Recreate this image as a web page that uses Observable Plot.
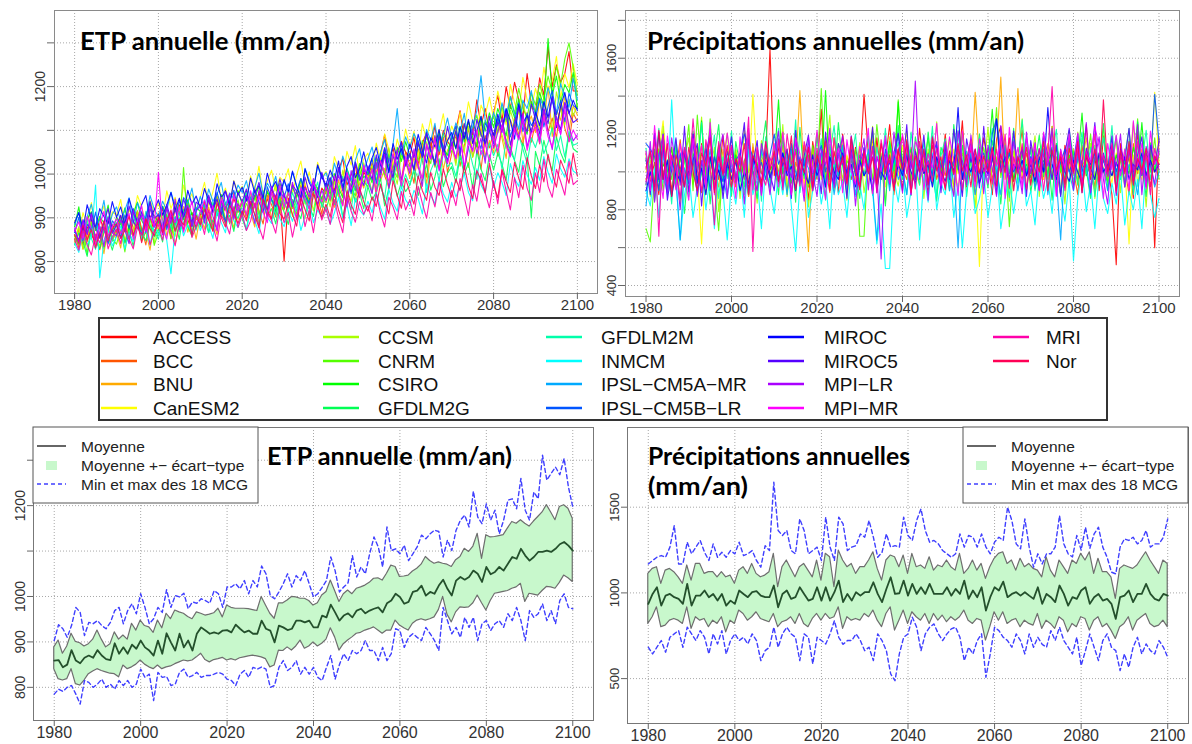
<!DOCTYPE html>
<html><head><meta charset="utf-8">
<script src="https://cdn.jsdelivr.net/npm/d3@7"></script>
<script src="https://cdn.jsdelivr.net/npm/@observablehq/plot@0.6"></script>
<style>
body{margin:0;background:#fff;}
#wrap{position:relative;width:1192px;height:744px;overflow:hidden;background:#fff;font-family:"Liberation Sans",Arial,sans-serif;}
.panel{position:absolute;}
#overlay{position:absolute;left:0;top:0;pointer-events:none;}
</style></head><body><div id="wrap"></div>
<script>
// ---------- catégories ----------
const annees = d3.range(1980, 2101);
const modeles = ["ACCESS","BCC","BNU","CanESM2","CCSM","CNRM","CSIRO","GFDLM2G","GFDLM2M","INMCM","IPSL-CM5A-MR","IPSL-CM5B-LR","MIROC","MIROC5","MPI-LR","MPI-MR","MRI","Nor"];
const couleurs = ["#FF0000","#FF5500","#FFAA00","#FFFF00","#AAFF00","#55FF00","#00FF00","#00FF55","#00FFAA","#00FFFF","#00AAFF","#0055FF","#0000FF","#5500FF","#AA00FF","#FF00FF","#FF00AA","#FF0055"];
const xTicks = [1980,2000,2020,2040,2060,2080,2100];
const etpTicks = [800,900,1000,1100,1200,1300];
const etpLabels = [800,900,1000,1200];
const precTicksHaut = [400,600,800,1000,1200,1400,1600,1800];
const precLabelsHaut = [400,800,1200,1600];
const precTicksBas = [500,1000,1500];

// ---------- ETP annuelle par modèle (mm/an) ----------
const etpACCESS = [850,872,838,880,861,845,902,870,858,884,866,901,879,852,890,915,870,884,905,868,892,921,880,905,868,930,899,887,912,876,905,938,898,917,950,903,925,911,944,919,932,906,948,925,958,917,940,968,929,952,801,945,922,960,938,975,942,958,930,968,955,990,962,1010,1035,975,998,1020,962,1005,988,1025,1000,1045,1090,1030,1060,1012,1075,1050,1040,1085,1020,1070,1095,1060,1110,1045,1100,1075,1060,1100,1145,1080,1120,1090,1170,1110,1150,1095,1140,1180,1120,1200,1150,1210,1170,1130,1230,1160,1140,1220,1180,1290,1200,1250,1210,1230,1280,1190,1190];
const etpBCC = [861,832,879,845,893,850,827,866,902,848,870,905,842,881,859,916,874,838,897,884,911,868,895,852,926,889,871,934,880,898,886,932,914,871,945,903,925,890,958,912,941,897,923,968,915,886,952,930,902,961,918,956,934,897,975,942,920,963,951,908,972,938,991,955,929,1003,964,985,947,1018,980,1012,952,1034,996,971,1046,1008,987,1052,1021,979,1058,1030,993,1072,1016,1049,1085,1003,1047,1092,1018,1065,1104,1039,1073,1011,1088,1060,1095,1041,1112,1078,1056,1130,1090,1067,1141,1073,1118,1069,1145,1097,1128,1082,1161,1105,1074,1139,1120];
const etpBNU = [842,875,828,856,890,837,861,818,879,850,866,831,898,852,874,907,845,869,826,891,873,912,858,895,840,881,926,867,899,851,906,874,925,889,862,940,897,918,876,933,901,948,912,879,936,920,963,895,931,910,944,906,925,962,931,898,957,976,920,948,935,969,924,987,951,1004,962,939,992,968,1001,957,1025,984,1013,966,1042,1005,979,1031,990,1038,1012,1066,975,1047,1023,1081,1010,1055,1070,1026,1094,1051,1015,1083,1062,1108,1040,1077,1049,1116,1082,1036,1125,1097,1150,1074,1108,1133,1095,1172,1118,1201,1086,1147,1123,1180,1101,1156,1135];
const etpCanESM2 = [893,858,912,881,935,876,901,927,869,914,906,942,880,919,897,951,925,888,940,913,934,898,962,921,947,910,975,936,955,918,946,981,927,959,1002,943,968,931,985,957,972,941,996,963,1018,951,984,1009,962,993,981,1012,955,998,1030,972,1005,961,1027,992,1006,975,1040,1012,988,1052,1021,1065,997,1034,1048,1010,1071,1033,1092,1056,1019,1080,1045,1103,1062,1098,1040,1115,1079,1127,1058,1094,1138,1072,1110,1086,1142,1103,1165,1121,1090,1158,1134,1176,1128,1190,1147,1112,1205,1163,1138,1221,1170,1149,1196,1158,1244,1187,1215,1269,1174,1230,1198,1252,1205];
const etpCCSM = [847,880,829,865,902,851,836,889,858,872,861,897,848,883,869,915,853,890,877,842,903,872,925,881,858,914,896,939,867,908,889,927,903,871,951,915,884,940,922,896,935,905,957,924,889,963,918,942,976,910,928,962,903,947,984,931,958,916,970,944,961,925,983,948,1009,966,937,1002,975,1026,982,1018,963,1037,994,1060,1011,977,1045,1023,1006,1052,1021,985,1074,1039,1088,1016,1060,1031,1067,1020,1093,1052,1110,1038,1081,1124,1062,1097,1075,1132,1090,1058,1146,1112,1083,1164,1121,1095,1140,1101,1179,1126,1098,1188,1145,1112,1171,1133,1160];
const etpCNRM = [858,838,876,815,889,847,864,829,871,852,840,873,822,881,856,893,849,868,902,837,866,884,909,853,895,871,1015,883,857,914,879,928,897,872,920,903,936,886,912,941,899,933,914,951,906,942,921,958,917,944,926,958,931,909,963,940,922,978,950,931,967,944,989,958,935,996,971,950,1010,982,972,1014,987,1029,998,1046,1011,992,1058,1027,1018,1055,1031,1077,1042,1024,1086,1058,1094,1066,1050,1099,1076,1114,1068,1104,1135,1086,1123,1100,1133,1094,1155,1120,1176,1139,1196,1151,1128,1185,1158,1205,1172,1224,1186,1246,1204,1263,1300,1244,1180];
const etpCSIRO = [880,925,862,897,914,871,903,888,929,866,901,885,923,870,910,936,894,877,919,905,888,927,901,874,935,912,896,941,907,923,915,898,946,927,905,953,921,940,903,962,930,957,916,945,972,928,960,941,913,979,950,926,971,947,990,959,934,983,966,942,978,953,1001,969,946,1013,984,962,1024,991,1006,980,1037,998,1052,1017,990,1061,1029,1074,1041,1008,1070,1039,1089,1052,1023,1096,1060,1043,1088,1057,1109,1073,1121,1085,1062,1132,1098,1140,1106,1150,1121,1087,1158,1129,1172,1113,1091,1166,1140,1187,1153,1310,1178,1224,1163,1205,1186,1232,1150];
const etpGFDLM2G = [838,866,845,812,879,851,830,872,858,826,861,889,843,870,835,902,866,848,884,857,874,845,906,868,889,851,919,880,861,903,884,921,867,895,876,938,890,906,869,925,898,872,931,909,883,947,904,921,886,939,913,885,942,917,898,952,926,903,961,930,918,953,931,967,902,945,978,936,958,921,972,940,959,991,927,968,1001,949,982,960,975,1008,951,987,1022,963,994,1035,971,1002,1017,980,1041,999,1026,968,1053,1011,985,1044,1009,1048,1023,986,1062,1031,1004,1071,1040,900,1052,1019,1077,1036,1008,1085,1049,1026,1093,1058,1050];
const etpGFDLM2M = [872,841,861,895,853,828,880,866,904,846,889,857,873,842,906,878,861,915,883,870,851,897,924,876,903,868,888,930,895,872,918,893,866,937,904,921,887,948,912,899,926,961,908,932,897,955,921,943,906,972,935,914,958,927,969,940,903,951,982,924,948,977,931,965,995,950,918,986,962,944,992,958,1005,971,946,1018,983,1030,967,999,974,1013,990,1042,958,1008,1031,984,1050,1017,1026,995,1047,1009,1063,1022,988,1055,1036,1071,1042,1068,1011,1079,1050,1033,1090,1057,1024,1083,1061,1095,1047,1072,1106,1054,1088,1039,1099,1066,1070];
const etpINMCM = [842,821,867,838,856,975,763,849,874,836,857,881,829,866,846,893,851,872,838,884,861,890,848,772,877,902,859,884,866,912,871,898,884,853,917,889,866,927,893,878,907,872,920,895,864,933,902,887,941,898,880,916,892,929,871,904,938,889,918,901,925,886,911,947,899,930,882,945,918,906,938,912,958,923,897,965,934,915,972,941,927,963,944,909,978,951,932,989,955,936,981,948,970,1001,958,939,1012,975,956,1020,969,1003,981,951,1024,990,972,1031,998,977,1015,986,1040,1004,979,1046,1012,993,1035,1007,1000];
const etpIPSLA = [884,912,865,903,931,879,896,940,872,908,925,893,917,946,888,934,912,897,951,920,902,938,917,959,926,905,947,933,968,915,949,922,966,938,954,981,929,957,944,975,958,985,941,970,1002,952,979,963,995,947,984,961,1005,972,948,1013,986,967,1019,990,1003,974,1025,992,1041,1010,985,1032,1058,1007,1035,1062,1012,1049,1079,1026,1068,1150,1044,1085,1058,1093,1070,1041,1102,1077,1116,1052,1090,1128,1081,1117,1094,1139,1070,1108,1145,1225,1122,1098,1141,1110,1163,1129,1178,1137,1102,1169,1150,1191,1133,1174,1152,1198,1165,1139,1207,1176,1153,1219,1170];
const etpIPSLB = [866,901,848,885,872,913,857,879,840,893,882,854,907,876,921,890,861,903,935,879,896,926,873,910,889,941,902,925,880,917,930,897,944,912,958,925,890,939,963,921,908,949,927,965,936,912,971,942,925,958,947,978,926,962,990,951,933,975,958,1001,963,991,948,1015,972,994,955,1028,986,1009,999,1036,978,1021,1060,1004,1042,1017,1069,1025,1048,1012,1077,1039,1096,1054,1028,1089,1063,1030,1081,1110,1052,1096,1073,1124,1085,1058,1117,1099,1069,1128,1102,1150,1085,1118,1163,1097,1139,1111,1127,1172,1108,1154,1191,1136,1168,1120,1185,1157,1150];
const etpMIROC = [889,912,871,930,895,878,921,903,886,937,901,925,884,944,912,889,930,951,897,918,941,906,929,958,917,945,902,963,931,950,922,967,939,915,978,946,961,929,984,952,970,938,991,957,974,945,1002,966,983,951,988,958,1007,972,946,1012,980,962,1021,993,975,1009,986,1030,962,1018,1040,991,1012,1051,1007,1037,1061,1019,1048,1003,1070,1034,1058,1022,1069,1038,1091,1054,1025,1083,1062,1102,1046,1077,1095,1059,1108,1081,1125,1070,1099,1132,1065,1114,1088,1137,1101,1149,1122,1080,1159,1117,1134,1095,1142,1111,1166,1129,1178,1106,1155,1187,1138,1169,1145];
const etpMIROC5 = [871,849,896,862,912,878,853,890,921,865,884,906,869,927,892,875,913,881,938,899,907,873,931,895,918,884,944,912,890,936,928,901,952,919,943,906,962,930,915,957,937,966,925,952,981,940,918,967,945,989,951,928,976,960,938,993,957,981,946,1004,968,992,951,1015,983,1002,961,1027,995,974,1019,987,1044,1003,1060,1026,992,1051,1073,1018,1046,1009,1072,1038,1094,1055,1021,1086,1049,1109,1064,1098,1042,1116,1077,1053,1125,1090,1068,1132,1081,1120,1095,1143,1066,1109,1152,1118,1097,1160,1124,1093,1151,1115,1175,1128,1102,1164,1139,1118,1125];
const etpMPILR = [877,845,893,862,908,850,881,834,901,868,858,895,872,841,917,884,906,866,925,879,899,861,922,887,943,873,908,930,881,915,927,888,946,904,870,939,918,955,897,932,909,951,926,887,964,935,903,972,941,918,956,923,981,938,915,969,947,990,928,963,939,975,952,998,964,925,1008,971,946,1019,984,955,1027,991,1045,968,1012,1055,986,1030,1001,1049,1018,972,1066,1035,1088,1007,1053,1024,1072,1036,1094,1011,1060,1103,1047,1082,1025,1117,1060,1095,1128,1071,1043,1110,1083,1139,1062,1101,1121,1078,1147,1099,1056,1132,1090,1161,1108,1076,1090];
const etpMPIMR = [869,891,852,903,874,838,886,915,857,880,898,863,884,910,851,893,928,870,902,881,1004,876,851,913,889,925,867,902,938,884,914,941,895,928,872,947,920,889,953,917,938,906,962,923,949,912,889,958,931,975,924,957,934,898,969,945,920,982,953,936,971,941,996,958,927,1004,965,989,950,1021,978,1012,960,1031,1003,984,1047,1016,973,1040,1009,1058,1021,990,1070,1034,1081,1012,1049,1026,1063,1035,1090,1015,1077,1052,1101,1044,1069,1028,1087,1052,1112,1065,1039,1104,1078,1126,1054,1093,1108,1071,1133,1085,1062,1119,1092,1147,1074,1101,1080];
const etpMRI = [851,826,872,838,815,863,843,881,829,857,874,841,888,852,829,879,861,896,838,870,885,849,902,868,836,891,875,914,855,880,899,862,918,881,847,906,890,863,925,878,908,871,893,934,880,851,912,894,865,927,889,912,856,903,937,880,918,866,931,895,920,885,942,899,866,951,915,890,937,908,928,893,955,911,879,947,925,896,960,918,941,905,972,933,899,958,925,982,941,910,963,928,990,947,905,976,938,1001,957,923,985,932,1008,961,918,992,946,1020,968,940,1003,958,1034,972,947,1011,983,952,1029,976,985];
const etpNor = [862,841,884,850,873,831,866,893,847,876,886,853,871,904,860,889,843,898,875,859,902,866,891,918,870,897,884,923,861,906,884,920,895,869,934,901,879,928,911,887,916,893,938,906,877,943,917,898,952,910,897,935,908,881,946,919,893,955,926,901,931,902,955,918,889,962,930,908,969,937,915,948,926,977,940,909,985,951,922,990,958,931,996,962,940,1004,970,951,1012,976,947,989,962,1020,973,944,1008,986,957,1025,975,946,1011,983,958,1027,990,965,1038,996,967,1021,982,1045,1001,970,1032,1008,979,1048,995];

// ---------- Précipitations annuelles par modèle (mm/an) ----------
const precACCESS = [1100,950,1050,880,1150,990,1080,920,1010,1120,940,1060,880,1150,1000,920,1080,960,1190,1030,900,1100,980,1050,870,1130,1010,950,1080,1650,980,1120,1210,900,1050,1180,960,1070,850,1160,1000,1330,920,1100,1050,890,1200,1020,960,1130,1010,1410,1100,880,1180,960,1060,1250,990,1120,900,1170,1050,960,1230,1010,890,1140,1060,980,1200,940,1080,1010,1270,920,1130,1050,990,1180,1060,880,1170,1240,1000,1120,950,1080,1220,990,1130,910,1050,1180,960,1240,1010,880,1140,1060,930,1110,1020,1250,960,1080,900,1190,1030,880,510,1150,990,1080,860,1210,1010,930,1120,600,1180];
const precBCC = [960,1040,880,1120,990,1060,910,1010,1170,930,1050,970,1130,890,1010,1080,940,1150,980,1060,1010,920,1090,960,1130,990,900,1060,1100,980,1070,940,1000,1120,880,1050,990,1140,920,1060,960,1100,1020,890,1180,1000,1070,940,1130,1010,950,1090,1010,1160,920,1040,990,1110,880,1060,1020,960,1130,1000,940,1080,1010,1190,960,1050,980,1110,920,1050,1140,990,1020,880,1080,1000,1120,960,1060,1000,1150,910,1070,1020,960,1100,990,1120,920,1040,1080,960,1150,1000,920,1070,1010,880,1140,980,1060,920,1090,1000,950,1130,960,1080,1020,880,1150,990,1060,920,1110,1000,1040];
const precBNU = [1020,960,1110,900,1050,980,1130,940,1070,990,900,1080,1000,1140,950,1060,1010,920,1120,980,1060,940,1090,1000,870,1150,980,1040,1100,960,1050,990,1140,920,1070,1010,1430,940,580,1120,990,1060,1180,950,1100,1010,930,1080,1020,960,1120,980,1050,1190,900,1060,1000,1140,960,1080,990,1110,940,1050,1160,1000,920,1080,1020,960,1140,990,1060,900,1100,1030,980,1420,1050,960,1080,1000,1130,1500,960,1070,1010,1440,980,1060,940,1100,1020,960,1150,990,1080,900,1060,1010,1120,960,1050,1180,990,900,1100,1020,950,1140,1000,1080,920,1160,980,1050,1120,970,1060,1010,1090];
const precCanESM2 = [1000,1060,950,1110,1270,980,1040,910,1090,1010,950,1130,990,620,1060,1010,940,1100,990,1050,960,1120,1000,1060,940,1410,1010,1090,960,1040,1120,990,1060,930,1110,1000,1050,940,1130,1000,980,1060,1110,950,1180,1020,970,1090,1010,950,1070,1000,940,1150,990,1060,920,1100,1020,980,1140,990,1060,1000,930,1090,1020,960,1130,1000,1050,970,1120,990,1040,930,1080,1010,500,1100,1000,1070,960,1120,1010,940,1090,1030,980,1060,1120,980,1040,960,1100,1010,930,1080,1000,1150,990,1060,920,1130,1010,960,1080,1000,1050,940,1100,980,1040,620,1090,1010,960,1070,1000,1420,1050];
const precCCSM = [1085,870,1190,960,1240,905,1030,1150,820,1075,1180,935,1045,1290,880,1010,1130,790,1060,1205,940,1115,860,1230,995,1070,835,1165,1010,900,1140,975,1250,870,1060,1180,925,1095,815,1035,1210,960,1085,1300,900,1020,1145,850,1090,980,1155,890,1030,1240,965,1100,835,1185,1010,925,1070,1215,905,1040,1160,860,1120,990,1265,940,1030,1175,880,1095,1205,950,1060,810,1145,1005,1235,930,1080,990,1170,845,1110,1020,1280,900,1050,1190,870,1125,1000,1240,935,1075,830,1160,985,1210,900,1065,1150,860,1095,1230,940,1040,1170,890,1120,1010,1260,925,1085,815,1155,1000,1095];
const precCNRM = [700,630,1000,1120,900,1060,960,1100,990,1050,1250,900,1300,1000,960,1280,930,690,1050,980,1120,950,1060,1000,1200,900,1050,990,1130,970,1080,1000,940,1110,1020,1200,980,1060,920,1140,1000,1440,960,1080,1020,1150,940,1060,1010,1120,660,660,1100,960,1250,1040,990,1080,920,1380,1020,1100,960,1120,1000,1050,1180,940,1070,1000,1120,980,1060,1010,1200,960,1080,1020,940,1130,1010,1060,1340,970,1090,710,1040,980,1100,1000,1050,940,1120,1010,1080,960,1140,1000,1060,920,1110,990,1060,1020,1200,960,1080,1010,950,1120,1000,1060,950,1110,1010,1280,980,1060,1000,1180,960];
const precCSIRO = [1060,980,1120,950,1040,1000,1130,920,1080,1010,960,1100,1010,1270,940,1060,1000,1140,980,1050,1000,1090,950,1060,1110,990,1040,920,1100,1010,1050,1380,990,1060,940,1120,1010,980,1090,960,1100,1000,1430,960,1050,1010,1120,970,1060,1000,1090,980,1040,1120,960,1070,1000,1150,1030,1370,990,1060,1120,960,1040,1010,1100,970,1060,1000,1080,990,1040,1110,960,1070,1000,1050,1130,980,1050,1330,990,1060,1010,1100,960,1080,1000,1040,970,1110,1020,1060,990,1130,1000,1050,960,1090,1010,1060,1310,980,1040,1100,960,1070,1010,980,1090,1000,1060,990,1130,1010,1260,980,1060,1000,1100];
const precGFDLM2G = [930,1110,845,1045,1190,960,875,1130,1005,780,1060,1215,900,990,1140,830,1085,1250,950,1020,875,1160,1035,920,1205,985,860,1100,1270,940,1055,880,1180,1000,1120,840,1235,965,1075,910,1190,1010,870,1145,955,1260,1030,890,1170,995,860,1125,1040,1215,930,1080,820,1160,1005,1245,960,1095,875,1185,1050,935,1210,990,845,1130,1065,900,1250,1015,1140,870,1095,960,1200,1030,915,1165,1050,830,1120,990,1230,940,1080,1175,890,1040,1195,975,1105,850,1150,1025,935,1220,1070,930,1180,1010,860,1140,995,1255,905,1060,1190,960,1085,1230,900,1265,1040,870,1150,1015,1110];
const precGFDLM2M = [1125,895,1010,1230,940,1065,830,1170,990,1090,870,1145,1000,1260,915,1040,1195,860,1080,965,1215,940,1055,880,1170,1010,1120,845,1185,975,1045,1230,905,1100,960,1275,890,1060,1150,930,1020,1175,850,1090,1245,980,1125,900,1060,1200,940,1080,1190,875,1130,1000,1230,920,1065,1155,1010,880,1210,1045,930,1160,995,1240,870,1085,1175,935,1060,1220,890,1110,1030,960,1185,925,1090,1230,950,1140,1015,865,1170,1050,1275,980,1120,900,1055,1190,960,1100,1225,880,1040,1165,945,1085,1210,990,1130,870,1060,1180,1005,1245,930,1100,1020,1170,880,1135,1050,1220,960,1080,1005];
const precINMCM = [900,820,1020,760,1100,900,1380,960,640,880,1000,760,920,1060,800,980,700,1050,900,640,950,830,1010,760,1120,880,960,700,1040,910,780,1000,880,1060,820,580,940,1040,760,900,1020,830,960,700,1080,880,950,760,1010,870,940,800,1060,900,620,830,490,490,960,840,1020,760,900,1060,640,980,840,1100,800,940,880,1060,760,940,600,900,1020,780,860,990,760,920,1040,700,860,980,780,940,1060,820,900,720,1000,860,960,780,1040,880,740,960,530,860,1020,790,940,700,1000,860,780,940,830,1000,720,900,800,960,700,1060,880,760,860];
const precIPSLA = [820,1040,940,1100,1000,880,1060,960,640,1020,940,1080,880,1010,960,1120,900,1040,980,860,1050,940,1100,1000,880,1060,960,1120,1000,920,1080,960,1040,880,1120,1000,940,1060,1020,900,1000,1100,940,1060,880,1020,1140,960,1040,880,1060,980,1120,920,640,1000,1060,900,1100,960,1020,880,1080,960,1040,1120,920,1000,1060,940,1080,900,1020,600,1060,960,1100,880,1000,1040,940,1080,1000,880,1140,960,1040,900,1060,980,1080,920,1000,1120,880,1040,960,640,1060,1000,900,1080,980,1040,880,1120,960,1020,900,1060,980,1100,920,1040,1000,880,1080,960,1040,920,1000];
const precIPSLB = [1150,1120,1080,900,1200,950,1050,1000,1100,920,1060,1200,960,1040,1120,900,1080,1000,950,1110,1000,1060,1100,1200,1140,1080,1000,1050,960,1090,1200,1040,1100,1000,1150,960,1080,1030,1120,990,1060,1140,1000,1080,960,1100,1040,1000,1120,980,1050,1110,1000,1080,1020,960,1120,1000,1060,1200,1000,1090,1040,960,1120,1000,1060,980,1140,1020,1100,1000,1060,1120,980,1040,1150,1000,1060,1100,1000,1200,1280,1080,1020,1100,1000,1060,1120,980,1080,1040,1120,1000,1060,1100,980,1050,1120,1000,1060,1200,1000,1080,1040,1100,1000,1060,980,1120,1000,1080,1040,1120,1000,1060,980,1100,1040,1410,1160];
const precMIROC = [900,1000,920,1210,960,1060,870,1000,950,1100,980,1200,940,1020,880,1080,960,1010,900,1050,960,1060,900,1000,940,1080,1010,920,1060,970,1040,950,1100,980,1030,900,1060,1000,940,1090,980,1040,920,1080,1000,960,1100,990,1040,920,1060,980,1020,900,1080,1000,960,1060,920,1040,980,1080,1000,940,1060,990,1040,920,1080,1000,950,1060,1000,1340,960,1040,1000,1080,940,1020,990,1060,1280,1000,1080,940,1040,1000,1060,980,1040,950,1080,1000,1340,1040,960,1080,1000,950,1060,1000,940,1080,1020,960,1100,1000,1040,980,1050,1000,1080,960,1040,1010,1100,980,1060,1000,1040];
const precMIROC5 = [1070,880,1205,960,1135,850,1010,1180,930,1240,895,1060,1150,820,1090,1210,975,1125,860,1035,1185,950,1080,1260,905,1040,1165,880,1110,990,900,1175,1030,1120,860,1220,950,1085,1195,915,1065,885,1210,1000,935,1150,1080,860,1190,1045,920,1130,1005,1235,890,1060,1170,945,1100,1205,1015,1250,880,1110,1000,1195,935,1075,1160,890,1140,960,1225,1035,870,1175,1050,1120,915,1240,980,1105,880,1190,1060,945,1215,1000,1130,870,1165,1020,905,1200,1085,960,1140,870,1095,1230,1010,1170,890,1125,1040,1260,935,1100,1005,1190,875,1120,1060,1230,955,1090,1185,920,1140,1040,1160];
const precMPILR = [935,1160,840,1085,1200,890,1180,1030,800,1120,1010,1195,870,1060,945,1225,905,1100,1200,860,1130,960,1070,830,1175,1005,900,1150,1040,880,1090,1215,920,1055,970,1160,1020,845,1185,995,870,1120,1035,1230,915,1075,1190,945,1105,820,1060,1175,905,1135,1010,540,1090,935,1210,1040,890,1150,1015,1480,960,1105,850,1185,1030,920,1160,985,870,1215,1060,930,1195,1010,1120,885,1140,1020,870,1245,1075,930,1160,1040,885,1210,990,1155,905,1095,1030,1230,875,1120,1000,1175,905,1110,1040,1260,890,1070,1185,960,830,1125,1030,1200,920,1110,1005,1250,880,1135,1040,935,1120];
const precMPIMR = [1110,900,1245,1010,860,1190,1040,905,1150,980,850,1175,1030,1140,910,1260,880,1120,1000,1205,1050,860,1185,985,1230,905,1125,875,1160,1015,1150,920,1210,1025,880,1180,1095,870,1140,995,1220,1010,855,1195,1040,1125,890,1170,1005,935,1135,1030,1230,885,1085,1000,1190,940,1110,1025,1200,1050,880,1160,1110,905,1095,1020,1255,930,1010,1185,1065,875,1215,1000,1140,920,1175,1050,935,1120,1030,1190,860,1235,1010,1130,915,1180,1040,1150,900,1210,1050,1180,870,1115,1020,1200,1000,1205,920,1095,1050,1240,1130,860,1150,1010,1195,980,1120,900,1270,1030,1150,910,1215,1040,1100];
const precMRI = [950,1020,1170,660,1190,935,1090,1010,860,1130,960,1280,1010,900,1170,1020,720,1160,980,1060,1140,940,1085,1010,1290,580,1130,995,930,1075,1010,1170,905,1200,1040,1105,925,1160,1065,900,1125,980,1100,900,1180,1010,1060,930,1150,1005,920,1095,1000,1120,890,1170,1020,1060,920,1115,1185,990,1090,910,1160,1000,1055,950,1125,995,915,1080,990,1135,905,1070,1170,950,1100,1000,1065,935,1120,995,1200,915,1080,990,1150,910,1070,975,1125,900,1100,1450,985,1105,900,1070,990,1130,905,1110,985,1200,930,1090,975,1150,890,1085,990,1130,940,1160,985,1090,880,1125,1010];
const precNor = [1020,1110,900,1220,960,1150,870,1090,1010,920,1130,1000,900,1100,1030,1180,890,1080,990,1140,920,1070,1000,1150,880,1090,1030,925,1160,1010,1110,950,1075,1005,1190,905,1065,995,1130,920,1090,1010,1160,900,1110,1000,1085,940,1185,1015,905,1115,990,1075,935,1150,1000,1090,900,1120,1010,1160,890,1085,1000,1120,930,1180,1005,1080,905,1110,985,1150,1005,1090,920,1120,995,1085,1000,1130,925,1095,995,1180,900,1080,1005,1130,930,1085,1000,1160,900,1115,1010,1080,935,1125,1000,1160,890,1090,1015,1120,950,1380,1000,1080,900,1115,1000,1160,930,1070,1010,1125,920,1085,1040];

// ---------- Statistiques des 18 MCG : ETP ----------
const etpMoy = [859,860,844,850,882,859,853,865,870,865,882,870,862,860,897,874,888,874,894,885,903,888,881,870,903,874,919,899,881,918,888,903,881,918,932,925,918,921,918,925,926,921,938,929,921,925,918,918,947,929,925,899,936,932,926,929,947,947,943,947,932,932,958,954,982,965,947,958,963,954,969,973,963,969,973,976,965,985,991,1006,999,984,988,1010,1013,1024,1002,1010,1006,1024,1037,1017,1002,1035,1043,1037,1043,1057,1050,1032,1065,1049,1054,1065,1057,1072,1087,1083,1105,1090,1079,1087,1098,1098,1101,1098,1105,1115,1120,1112,1101];
const etpHaut = [888,903,874,890,918,900,897,890,895,905,925,905,888,895,921,905,914,905,940,925,947,935,932,920,947,930,962,950,969,965,962,955,950,965,962,958,960,963,973,954,980,975,973,973,973,972,970,968,999,980,962,951,985,985,991,999,998,995,995,990,980,985,1002,1010,1035,1012,988,1005,1013,1005,1017,1020,1024,1030,1039,1040,1035,1050,1068,1065,1043,1044,1046,1055,1061,1070,1087,1078,1072,1075,1072,1070,1065,1080,1087,1105,1098,1110,1138,1083,1135,1130,1131,1133,1135,1150,1164,1160,1168,1160,1154,1165,1175,1185,1201,1185,1168,1197,1201,1193,1171];
const etpBas = [840,818,815,818,840,807,804,815,829,835,840,836,833,830,829,822,848,840,844,850,859,850,844,840,848,840,844,846,851,855,859,857,859,866,874,860,855,860,862,865,859,862,859,864,866,868,870,868,866,862,844,848,881,880,888,881,890,903,885,890,899,890,896,905,930,910,881,895,903,910,918,920,925,928,932,925,918,925,925,947,936,930,925,940,947,950,947,950,954,970,999,960,943,965,976,975,976,985,1002,985,969,990,1006,1008,1010,1012,1017,1020,1028,988,1006,1004,1002,1012,1021,1020,1017,1030,1046,1040,1032];
const etpMax = [903,938,929,910,936,976,965,914,943,940,947,936,929,943,969,976,940,969,984,962,1006,976,940,951,976,965,1015,976,1002,999,1007,973,988,985,995,991,985,1013,1006,976,1021,1021,1028,1017,1035,1006,1035,1021,1067,1050,1002,995,1010,1028,1050,1021,1046,1035,1057,1028,999,1006,1020,1035,1087,1057,1010,1021,1030,1090,1043,1065,1050,1094,1131,1109,1065,1153,1101,1105,1094,1113,1079,1094,1109,1135,1127,1138,1146,1143,1087,1124,1101,1146,1168,1179,1153,1232,1175,1160,1204,1168,1190,1138,1168,1212,1215,1193,1260,1190,1168,1230,1215,1311,1256,1271,1285,1268,1304,1241,1197];
const etpMin = [785,796,791,800,804,785,763,815,811,800,807,818,800,807,796,815,804,815,800,807,840,822,829,771,833,822,824,804,807,833,840,822,826,833,822,826,826,829,833,829,818,815,804,829,837,822,844,840,845,840,800,804,844,859,837,844,859,829,844,829,844,822,815,844,870,818,850,874,859,881,874,881,903,881,881,859,888,859,874,929,925,888,910,918,910,903,932,918,903,881,976,947,918,932,910,954,932,954,903,940,947,925,940,947,932,962,947,976,947,903,969,954,962,984,947,969,940,991,1006,976,973];

// ---------- Statistiques des 18 MCG : précipitations ----------
const precMoy = [936,994,1033,926,984,994,975,965,936,1053,926,984,984,1014,975,994,955,994,926,955,936,1014,994,975,1004,1010,984,975,975,1043,916,994,1014,965,975,1033,994,955,965,1033,955,1033,955,1004,1072,946,994,955,1004,984,1004,1004,1062,994,946,1023,1091,994,998,1072,984,1053,994,1033,994,1053,994,994,994,1033,984,1023,994,1072,965,1014,975,1033,897,975,1033,1014,1066,975,994,1004,984,1004,984,965,1033,936,994,975,946,1043,994,926,975,965,1014,1033,936,975,994,955,965,936,848,975,984,1014,946,994,994,1053,994,965,955,994,984];
const precHaut = [1111,1140,1150,1053,1130,1140,1121,1091,1053,1160,1072,1169,1169,1111,1121,1121,1091,1121,1091,1101,1053,1130,1150,1111,1169,1111,1091,1101,1121,1228,1033,1150,1189,1140,1091,1150,1169,1130,1091,1189,1072,1228,1208,1033,1247,1189,1150,1169,1111,1150,1150,1189,1237,1140,1072,1189,1218,1208,1150,1218,1111,1228,1150,1160,1140,1208,1130,1160,1150,1189,1150,1130,1228,1111,1140,1189,1130,1169,1082,1150,1199,1228,1237,1169,1189,1130,1199,1150,1169,1140,1130,1091,1208,1130,1091,1189,1150,1111,1189,1169,1228,1189,1237,1111,1199,1121,1121,1091,965,1140,1160,1150,1140,1160,1199,1237,1189,1150,1111,1189,1169];
const precBas = [819,858,916,800,809,838,848,838,819,916,790,858,838,848,800,838,819,858,770,838,819,897,877,838,858,887,848,838,829,877,800,829,838,858,819,877,819,800,848,877,838,877,848,858,916,790,858,838,848,838,877,858,897,838,800,877,916,780,838,897,819,887,858,838,877,819,877,838,868,829,858,838,858,897,838,819,848,838,722,800,887,838,887,819,838,848,800,838,819,809,877,790,838,819,790,858,838,770,819,800,858,848,780,838,858,800,819,780,731,800,819,858,780,838,858,877,819,800,809,838,800];
const precMax = [1169,1189,1208,1218,1208,1267,1393,1169,1169,1296,1228,1267,1306,1237,1189,1286,1208,1237,1208,1247,1228,1296,1218,1228,1247,1189,1150,1276,1247,1646,1364,1335,1364,1247,1228,1432,1364,1228,1247,1267,1189,1442,1267,1189,1442,1403,1247,1267,1276,1344,1325,1422,1325,1208,1237,1344,1267,1276,1267,1442,1335,1306,1422,1490,1364,1296,1306,1286,1247,1228,1208,1228,1344,1267,1335,1325,1267,1344,1267,1228,1296,1325,1306,1500,1422,1286,1257,1432,1267,1150,1228,1169,1228,1228,1267,1451,1286,1228,1210,1335,1250,1383,1260,1344,1383,1267,1208,1121,1111,1267,1315,1306,1325,1286,1306,1364,1267,1286,1286,1325,1432];
const precMin = [683,644,683,722,654,741,761,780,683,800,761,722,780,741,644,761,702,780,644,722,761,722,741,702,761,722,605,663,683,800,683,761,800,761,741,605,761,741,586,741,722,702,761,838,741,700,722,722,761,722,663,683,605,761,722,663,527,488,644,741,760,858,800,663,761,800,819,761,722,761,790,800,741,605,683,644,722,761,508,644,800,780,741,722,683,761,722,644,761,683,741,700,683,780,722,800,722,683,644,741,576,663,761,683,605,722,761,683,663,547,644,566,683,741,644,702,663,644,722,683,624];

// ---------- tables ----------
const etpSeries = [etpACCESS,etpBCC,etpBNU,etpCanESM2,etpCCSM,etpCNRM,etpCSIRO,etpGFDLM2G,etpGFDLM2M,etpINMCM,etpIPSLA,etpIPSLB,etpMIROC,etpMIROC5,etpMPILR,etpMPIMR,etpMRI,etpNor];
const precSeries = [precACCESS,precBCC,precBNU,precCanESM2,precCCSM,precCNRM,precCSIRO,precGFDLM2G,precGFDLM2M,precINMCM,precIPSLA,precIPSLB,precMIROC,precMIROC5,precMPILR,precMPIMR,precMRI,precNor];

function longTable(series){
  const rows = [];
  modeles.forEach((m,i)=>series[i].forEach((v,j)=>rows.push({modele:m, annee:annees[j], valeur:v})));
  return rows;
}
function statTable(moy,haut,bas,mx,mn){
  return annees.map((a,j)=>({annee:a, moy:moy[j], haut:haut[j], bas:bas[j], max:mx[j], min:mn[j]}));
}

const FONT = '"Liberation Sans", Arial, sans-serif';
const gridStyle = {stroke:"#a8a8a8", strokeOpacity:1, strokeDasharray:"1,2", strokeWidth:1};
const xDomain = [1975.2, 2104.8];

function place(node, left, top){
  const d = document.createElement("div");
  d.className = "panel"; d.style.left = left+"px"; d.style.top = top+"px";
  d.appendChild(node); document.getElementById("wrap").appendChild(d);
}

function topPanel(o){
  return Plot.plot({
    width:o.width, height:o.height,
    marginLeft:o.ml, marginRight:o.mr, marginTop:o.mt, marginBottom:o.mb,
    style:{fontFamily:FONT, color:"#333", background:"transparent", overflow:"visible"},
    x:{domain:xDomain, label:null},
    y:{domain:o.yDomain, label:null},
    color:{domain:modeles, range:couleurs},
    marks:[
      Plot.gridX(xTicks, gridStyle),
      Plot.gridY(o.yTicks, gridStyle),
      Plot.lineY(longTable(o.series), {x:"annee", y:"valeur", z:"modele", stroke:"modele", strokeWidth:1.1, strokeOpacity:0.9}),
      Plot.frame({stroke:"#8a8a8a"}),
      Plot.axisX(xTicks, {label:null, tickFormat:d=>String(d), tickSize:6, tickPadding:0, fontSize:15, stroke:"#666"}),
      Plot.axisY(o.yTicks, {label:null, tickFormat:d=>o.yLabels.includes(d)?String(d):"", tickRotate:-90, tickSize:7, tickPadding:o.tp, fontSize:o.yFont, stroke:"#666"})
    ]
  });
}

function bottomPanel(o){
  const t = statTable(...o.stats);
  return Plot.plot({
    width:o.width, height:o.height,
    marginLeft:o.ml, marginRight:o.mr, marginTop:o.mt, marginBottom:o.mb,
    style:{fontFamily:FONT, color:"#333", background:"transparent", overflow:"visible"},
    x:{domain:xDomain, label:null},
    y:{domain:o.yDomain, label:null},
    marks:[
      Plot.gridX(xTicks, gridStyle),
      Plot.gridY(o.yTicks, gridStyle),
      Plot.areaY(t, {x:"annee", y1:"bas", y2:"haut", fill:"#c8f8cc", stroke:"#6e6e6e", strokeWidth:1.2}),
      Plot.lineY(t, {x:"annee", y:"moy", stroke:"#24502c", strokeWidth:1.8}),
      Plot.lineY(t, {x:"annee", y:"max", stroke:"#3f3fff", strokeWidth:1.4, strokeDasharray:"4,3"}),
      Plot.lineY(t, {x:"annee", y:"min", stroke:"#3f3fff", strokeWidth:1.4, strokeDasharray:"4,3"}),
      Plot.frame({stroke:"#777"}),
      Plot.axisX(xTicks, {label:null, tickFormat:d=>String(d), tickSize:6, tickPadding:0, fontSize:16, stroke:"#666"}),
      Plot.axisY(o.yTicks, {label:null, tickFormat:d=>o.yLabels.includes(d)?String(d):"", tickRotate:-90, tickSize:6, tickPadding:o.tp, fontSize:o.yFont, stroke:"#666"})
    ]
  });
}

place(topPanel({series:etpSeries, width:600, height:318, ml:54, mr:3, mt:10, mb:25, yDomain:[727,1374], yTicks:etpTicks, yLabels:etpLabels, yFont:14, tp:3}), 0, 0);
place(topPanel({series:precSeries, width:592, height:318, ml:25, mr:13, mt:10, mb:22, yDomain:[342,1852], yTicks:precTicksHaut, yLabels:precLabelsHaut, yFont:13, tp:3}), 600, 0);
place(bottomPanel({stats:[etpMoy,etpHaut,etpBas,etpMax,etpMin], width:600, height:324, ml:33, mr:7, mt:7, mb:24, yDomain:[727,1372], yTicks:etpTicks, yLabels:etpLabels, yFont:14, tp:3}), 0, 420);
place(bottomPanel({stats:[precMoy,precHaut,precBas,precMax,precMin], width:592, height:324, ml:27, mr:4, mt:7, mb:21, yDomain:[238,1965], yTicks:precTicksBas, yLabels:precTicksBas, yFont:13, tp:3}), 600, 420);

// ---------- overlay: titres et légendes ----------
const ov = d3.select("#wrap").append("svg").attr("id","overlay").attr("width",1192).attr("height",744);
function titre(txt, x, y, len){
  ov.append("text").attr("x",x).attr("y",y).attr("textLength",len).attr("lengthAdjust","spacingAndGlyphs")
    .attr("font-family","Lato, 'Open Sans', sans-serif").attr("font-weight",700).attr("font-size",24).attr("fill","#000").text(txt);
}
titre("ETP annuelle (mm/an)", 80, 50, 250);
titre("Précipitations annuelles (mm/an)", 647, 50, 377);
titre("ETP annuelle (mm/an)", 267, 465, 245);
titre("Précipitations annuelles", 648, 465, 262);
titre("(mm/an)", 648, 495, 100);

// légende des modèles
const lg = ov.append("g");
lg.append("rect").attr("x",99).attr("y",318).attr("width",1008).attr("height",102).attr("fill","#fff").attr("stroke","#333").attr("stroke-width",2);
const colX = [101,323,546,768,993], txtX = [153,378,601,824,1046], rowY = [337,361,384,408];
modeles.forEach((m,i)=>{
  const c = Math.floor(i/4), r = i%4;
  lg.append("line").attr("x1",colX[c]).attr("x2",colX[c]+36).attr("y1",rowY[r]).attr("y2",rowY[r]).attr("stroke",couleurs[i]).attr("stroke-width",2.5);
  lg.append("text").attr("x",txtX[c]).attr("y",rowY[r]).attr("dy","0.36em").attr("font-family",FONT).attr("font-size",19).attr("fill","#111").text(m.replace(/-/g,"\u2212"));
});

// légendes des statistiques
function statLegend(x0, x1){
  const g = ov.append("g");
  g.append("rect").attr("x",x0).attr("y",427).attr("width",x1-x0).attr("height",76).attr("fill","#fff").attr("stroke","#555").attr("stroke-width",1);
  const lx = x0+4, tx = x0+48;
  g.append("line").attr("x1",lx).attr("x2",lx+29).attr("y1",446).attr("y2",446).attr("stroke","#333").attr("stroke-width",1.5);
  g.append("rect").attr("x",lx+9).attr("y",461).attr("width",11).attr("height",9).attr("fill","#c8f8cc");
  g.append("line").attr("x1",lx).attr("x2",lx+29).attr("y1",484).attr("y2",484).attr("stroke","#3f3fff").attr("stroke-width",1.3).attr("stroke-dasharray","4,3");
  [["Moyenne",446],["Moyenne +\u2212 écart\u2212type",465],["Min et max des 18 MCG",484]].forEach(([t,y])=>{
    g.append("text").attr("x",tx).attr("y",y).attr("dy","0.36em").attr("font-family",FONT).attr("font-size",15.5).attr("fill","#222").text(t);
  });
}
statLegend(33, 258);
statLegend(963, 1188);
</script></body></html>
